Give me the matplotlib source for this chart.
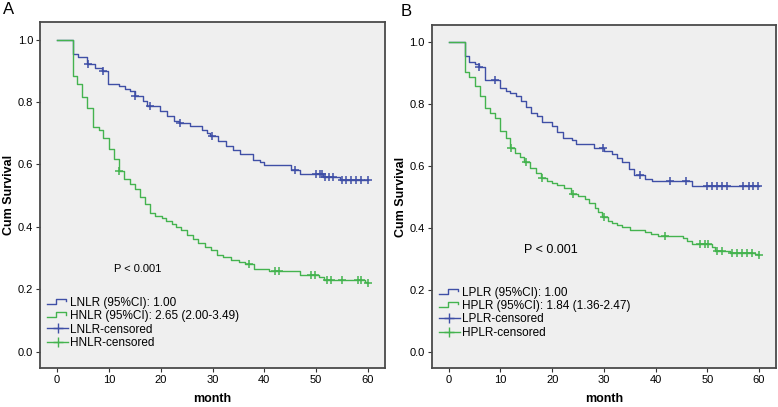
import numpy as np
import matplotlib
matplotlib.use('Agg')
import matplotlib.pyplot as plt
from matplotlib.lines import Line2D
from matplotlib.legend_handler import HandlerBase

plt.rcParams['font.family'] = ['Liberation Sans', 'DejaVu Sans']

# ---- panel A : NLR ----
a_low_t = [0, 3.0, 4.1, 5.8, 7.3, 8.6, 9.9, 11.9, 13.2, 14.1, 15.1, 16.5, 17.4, 19.9, 21.2, 22.5,
           23.6, 25.7, 28.0, 29.0, 29.6, 31.1, 32.7, 34.0, 35.3, 37.8, 39.1, 39.9, 45.2, 46.8,
           51.3, 54.7, 60.0]
a_low_s = [1.0, 0.955, 0.943, 0.921, 0.909, 0.898, 0.859, 0.850, 0.843, 0.835, 0.818, 0.804, 0.788,
           0.772, 0.756, 0.740, 0.732, 0.724, 0.711, 0.700, 0.692, 0.674, 0.660, 0.647, 0.634,
           0.615, 0.608, 0.599, 0.583, 0.570, 0.559, 0.549, 0.549]
a_low_cens = [6.0, 8.9, 15.1, 17.9, 23.8, 29.9, 45.9, 50.0, 50.7, 51.2, 51.8, 52.5, 53.3,
              54.9, 55.8, 56.8, 57.7, 58.7, 60.0]

a_high_t = [0, 3.0, 3.8, 4.9, 5.8, 6.9, 8.0, 8.9, 10.1, 11.0, 11.9, 12.9, 14.1, 15.0, 16.0, 17.0,
            17.9, 18.9, 20.2, 21.0, 22.1, 23.0, 24.0, 25.0, 26.3, 27.2, 28.5, 29.8, 30.8, 32.0,
            33.6, 35.2, 36.2, 38.1, 40.9, 46.8, 50.6, 51.6, 59.4, 59.8]
a_high_s = [1.0, 0.884, 0.857, 0.815, 0.781, 0.719, 0.709, 0.684, 0.650, 0.618, 0.580, 0.552,
            0.538, 0.522, 0.495, 0.474, 0.445, 0.436, 0.428, 0.419, 0.410, 0.401, 0.389, 0.373,
            0.362, 0.347, 0.336, 0.325, 0.309, 0.302, 0.295, 0.287, 0.280, 0.266, 0.259, 0.247,
            0.240, 0.229, 0.223, 0.219]
a_high_cens = [12.0, 37.1, 42.0, 42.8, 49.1, 49.8, 52.1, 52.9, 54.9, 58.1, 58.7, 60.0]

# ---- panel B : PLR ----
b_low_t = [0, 3.1, 3.9, 5.0, 5.9, 7.0, 9.9, 11.0, 11.9, 13.0, 13.9, 14.9, 16.0, 17.0, 18.0, 19.9,
           21.0, 22.1, 23.8, 24.7, 28.0, 30.0, 31.5, 32.5, 33.5, 34.8, 35.8, 38.0, 39.3, 47.0, 60.0]
b_low_s = [1.0, 0.957, 0.938, 0.930, 0.919, 0.878, 0.854, 0.843, 0.835, 0.828, 0.811, 0.790,
           0.773, 0.763, 0.744, 0.730, 0.709, 0.690, 0.684, 0.673, 0.660, 0.649, 0.638, 0.625,
           0.612, 0.590, 0.570, 0.558, 0.553, 0.536, 0.536]
b_low_cens = [5.9, 8.9, 29.9, 36.9, 42.8, 45.9, 49.9, 50.9, 51.9, 52.8, 53.9, 57.0, 58.0,
              58.9, 59.9]

b_high_t = [0, 3.1, 3.9, 5.0, 6.0, 7.0, 7.9, 8.9, 10.0, 11.0, 11.9, 12.8, 13.8, 14.6, 15.8, 16.9,
            17.8, 19.0, 19.9, 21.0, 22.2, 23.7, 25.0, 26.3, 27.2, 28.2, 28.8, 29.6, 30.9, 31.5,
            32.5, 33.5, 35.1, 38.0, 39.2, 40.5, 45.4, 46.0, 47.0, 51.0, 51.5, 54.4, 59.2, 59.8]
b_high_s = [1.0, 0.903, 0.887, 0.860, 0.827, 0.787, 0.773, 0.757, 0.712, 0.690, 0.660, 0.642,
            0.628, 0.612, 0.595, 0.577, 0.561, 0.552, 0.546, 0.538, 0.530, 0.511, 0.502, 0.494,
            0.482, 0.466, 0.452, 0.436, 0.423, 0.415, 0.409, 0.404, 0.395, 0.387, 0.380, 0.376,
            0.369, 0.358, 0.347, 0.340, 0.326, 0.320, 0.315, 0.312]
b_high_cens = [12.0, 14.9, 18.0, 24.0, 30.0, 41.8, 48.6, 49.6, 50.2, 51.9, 52.8, 54.8, 55.7,
               56.7, 57.7, 58.6, 60.0]

BLUE = '#3f4fa6'
GREEN = '#44b34f'


class StepHandler(HandlerBase):
    # small step icon like SPSS legends
    def create_artists(self, legend, orig_handle, xdescent, ydescent, width, height, fontsize, trans):
        xs = np.array([0.0, 0.45, 0.45, 0.92, 0.92]) * width - xdescent
        ys = np.array([0.2, 0.2, 0.85, 0.85, 0.55]) * height - ydescent
        ln = Line2D(xs, ys, color=orig_handle.get_color(), lw=1.0)
        ln.set_transform(trans)
        return [ln]


def km_panel(ax, lt, ls, lc, ht, hs, hc, names, ptext_xy, psize, leg_y):
    for t, s, c, col in [(lt, ls, lc, BLUE), (ht, hs, hc, GREEN)]:
        t = np.asarray(t)
        s = np.asarray(s)
        ax.step(t, s, where='post', color=col, lw=1.0)
        idx = np.searchsorted(t, np.asarray(c), side='right') - 1
        ax.plot(c, s[idx], ls='none', marker='+', ms=6, mew=1.1, color=col)

    ax.set_xlim(-3.3, 63.3)
    ax.set_ylim(-0.052, 1.056)
    ax.set_facecolor('#efefef')
    ax.set_xticks([0, 10, 20, 30, 40, 50, 60])
    ax.set_yticks([0.0, 0.2, 0.4, 0.6, 0.8, 1.0])
    ax.set_yticklabels(['0.0', '0.2', '0.4', '0.6', '0.8', '1.0'])
    ax.tick_params(labelsize=8, length=3, width=0.8, pad=2, color='#333333')
    for sp in ax.spines.values():
        sp.set_color('#4a4a4a')
        sp.set_linewidth(1.3)
    ax.set_xlabel('month', fontsize=9, fontweight='bold', labelpad=6)
    ax.set_ylabel('Cum Survival', fontsize=9, fontweight='bold', labelpad=2)
    ax.text(ptext_xy[0], ptext_xy[1], 'P < 0.001', fontsize=psize, ha='center', va='center')

    h1 = Line2D([], [], color=BLUE)
    h2 = Line2D([], [], color=GREEN)
    h3 = Line2D([], [], color=BLUE, marker='+', ms=7, mew=1.0, lw=1.0)
    h4 = Line2D([], [], color=GREEN, marker='+', ms=7, mew=1.0, lw=1.0)
    ax.legend([h1, h2, h3, h4], names, loc='lower left', bbox_to_anchor=(0.02, leg_y),
              frameon=False, fontsize=8.5, borderpad=0, labelspacing=0.12, handlelength=1.8,
              handletextpad=0.15, borderaxespad=0,
              handler_map={h1: StepHandler(), h2: StepHandler()})


fig = plt.figure(figsize=(7.78, 4.07), dpi=100)
axA = fig.add_axes([0.0514, 0.0958, 0.4435, 0.850])
axB = fig.add_axes([0.5549, 0.0958, 0.4425, 0.8428])

km_panel(axA, a_low_t, a_low_s, a_low_cens, a_high_t, a_high_s, a_high_cens,
         ['LNLR (95%CI): 1.00', 'HNLR (95%CI): 2.65 (2.00-3.49)', 'LNLR-censored', 'HNLR-censored'],
         (15.5, 0.264), 8, 0.055)
km_panel(axB, b_low_t, b_low_s, b_low_cens, b_high_t, b_high_s, b_high_cens,
         ['LPLR (95%CI): 1.00', 'HPLR (95%CI): 1.84 (1.36-2.47)', 'LPLR-censored', 'HPLR-censored'],
         (19.8, 0.329), 9, 0.085)

fig.text(0.004, 0.995, 'A', fontsize=12, va='top', ha='left')
fig.text(0.515, 0.99, 'B', fontsize=12, va='top', ha='left')

fig.savefig('out.png', dpi=100)
